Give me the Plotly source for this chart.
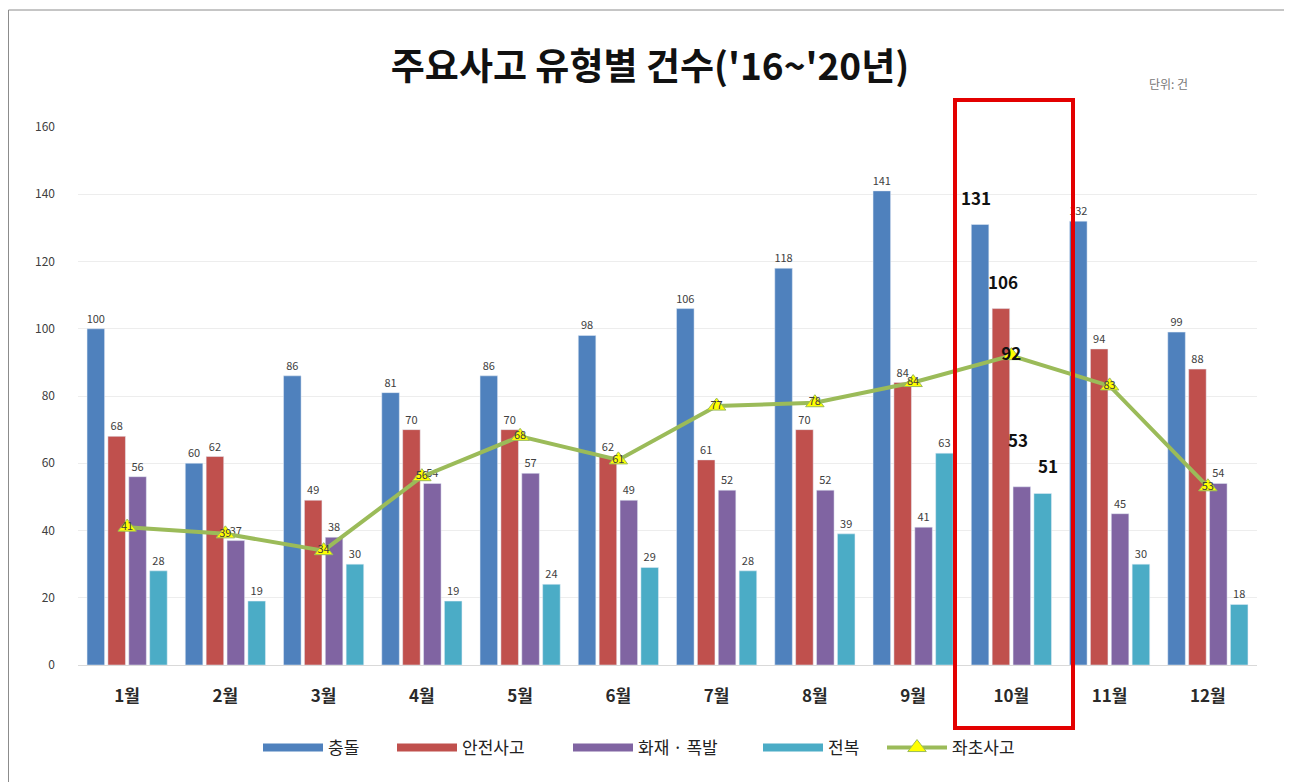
import plotly.graph_objects as go

months = ["1월", "2월", "3월", "4월", "5월", "6월", "7월", "8월", "9월", "10월", "11월", "12월"]
collision = [100, 60, 86, 81, 86, 98, 106, 118, 141, 131, 132, 99]
safety = [68, 62, 49, 70, 70, 62, 61, 70, 84, 106, 94, 88]
fire = [56, 37, 38, 54, 57, 49, 52, 52, 41, 53, 45, 54]
capsize = [28, 19, 30, 19, 24, 29, 28, 39, 63, 51, 30, 18]
grounding = [41, 39, 34, 56, 68, 61, 77, 78, 84, 92, 83, 53]

highlight = "10월"
FONT = "Noto Sans CJK KR"

W, H = 1284, 774          # page has an 8px body margin
L, R, T, B = 70, 35, 119, 117
PW, PH = W - L - R, H - T - B


def px_x(x):  # figure px -> paper
    return (x - L) / PW


def px_y(y):
    return (H - B - y) / PH


fig = go.Figure()
# name, values, colour, legend x (px), label x-shift, label y-shift for the highlighted month
series = [
    ("충돌", collision, "#4F81BD", 255, -35, 27),
    ("안전사고", safety, "#C0504D", 389, -8, 27),
    ("화재 · 폭발", fire, "#8064A2", 565, 7, 47),
    ("전복", capsize, "#4BACC6", 755, 37, 28),
]
legend_cfg = {}
for k, (name, vals, color, lx, dx, dy) in enumerate(series):
    lg = "legend" if k == 0 else f"legend{k + 1}"
    texts = ["" if m == highlight else str(v) for m, v in zip(months, vals)]
    fig.add_trace(go.Bar(
        x=months, y=vals, name=name, marker_color=color, showlegend=False,
        text=texts, textposition="outside", constraintext="none",
        textfont=dict(size=11, color="#404040", family=FONT),
        cliponaxis=False,
    ))
    # legend entry drawn as a thick line like the original legend keys
    fig.add_trace(go.Scatter(
        x=[None], y=[None], mode="lines", name=name, legend=lg,
        line=dict(color=color, width=8),
    ))
    legend_cfg[lg] = lx
    # emphasised labels for the highlighted month
    i = months.index(highlight)
    fig.add_annotation(
        x=months[i], y=vals[i], text=f"<b>{vals[i]}</b>", showarrow=False,
        xshift=dx, yshift=dy,
        font=dict(size=17, color="#111111", family=FONT),
    )

fig.add_trace(go.Scatter(
    x=months, y=grounding, name="좌초사고", mode="lines+markers+text", legend="legend5",
    line=dict(color="#9BBB59", width=4),
    marker=dict(symbol="triangle-up", size=16, color="#FFFF00", line=dict(color="#9BBB59", width=1)),
    text=[f"<b>{v}</b>" if m == highlight else str(v) for m, v in zip(months, grounding)],
    textposition="middle center",
    textfont=dict(size=[17 if m == highlight else 11 for m in months],
                  color=["#111111" if m == highlight else "#404040" for m in months], family=FONT),
    cliponaxis=False,
))
legend_cfg["legend5"] = 879

layout_legends = {}
for lg, lx in legend_cfg.items():
    layout_legends[lg] = dict(
        orientation="h", x=px_x(lx - 5), xanchor="left", y=px_y(740), yanchor="middle",
        font=dict(size=17, color="#222222", family=FONT), itemwidth=60,
        bgcolor="rgba(0,0,0,0)",
    )

fig.update_layout(
    width=W, height=H,
    paper_bgcolor="white", plot_bgcolor="white",
    barmode="group", bargap=0.15, bargroupgap=0.16,
    margin=dict(l=L, r=R, t=T, b=B),
    font=dict(family=FONT, color="#404040"),
    title=dict(text="<b>주요사고 유형별 건수('16~'20년)</b>", x=0.5, xanchor="center",
               y=1 - 59 / H, yanchor="middle",
               font=dict(size=37, color="#111111", family=FONT)),
    showlegend=True,
    **layout_legends,
)
fig.update_xaxes(
    showgrid=False, showline=True, linecolor="#D9D9D9", linewidth=1,
    tickfont=dict(size=17, color="#2A2A2A", family=FONT, weight="bold"), ticks="",
    ticklabelstandoff=16, range=[-0.5, 11.5],
)
fig.update_yaxes(
    range=[0, 160], dtick=20, showgrid=True, gridcolor="#EDEDED", gridwidth=1,
    zeroline=False, tickfont=dict(size=12, color="#404040", family=FONT),
    ticklabelstandoff=22, fixedrange=True,
)

fig.add_annotation(text="단위: 건", xref="paper", yref="paper",
                   x=px_x(1182), y=px_y(65), showarrow=False,
                   font=dict(size=12, color="#777777", family=FONT))

# highlight frame around 10월
fig.add_shape(type="rect", xref="paper", yref="paper",
              x0=px_x(947), x1=px_x(1065), y0=px_y(720), y1=px_y(92),
              line=dict(color="#E30000", width=4), fillcolor="rgba(0,0,0,0)")
# outer frame
fig.add_shape(type="rect", xref="paper", yref="paper",
              x0=px_x(0.5), x1=px_x(1279), y0=px_y(H + 10), y1=px_y(2),
              line=dict(color="#8C8C8C", width=1), fillcolor="rgba(0,0,0,0)")

fig.write_html("out.html")
